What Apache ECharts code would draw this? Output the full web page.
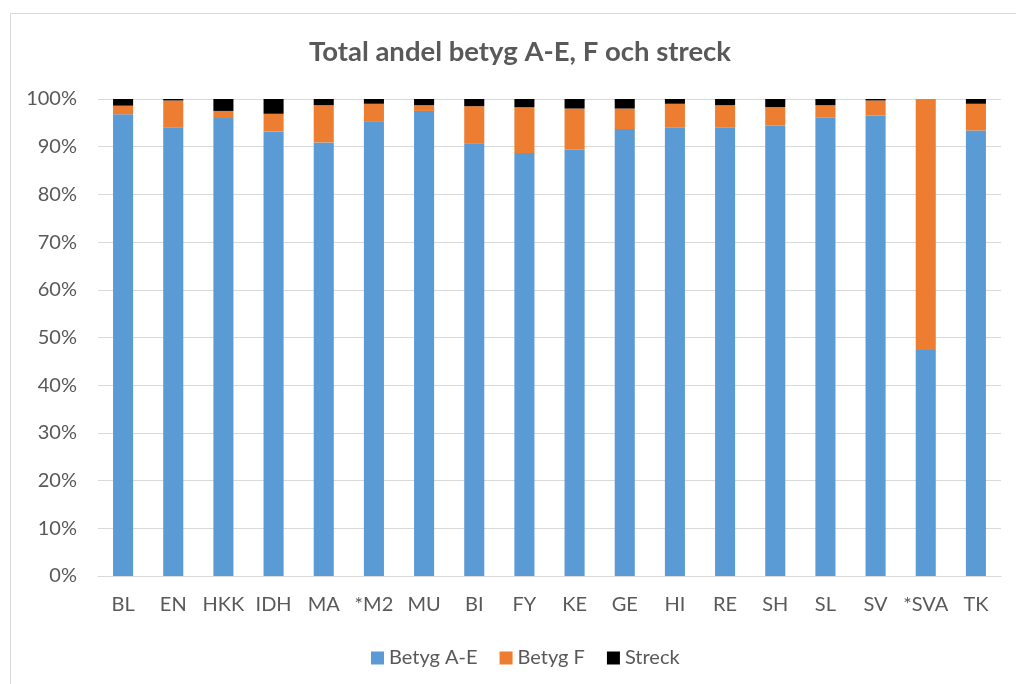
<!DOCTYPE html>
<html lang="sv">
<head>
    <meta charset="UTF-8">
    <title>Total andel betyg A-E, F och streck</title>
    <script type="text/javascript" src="https://cdn.jsdelivr.net/npm/echarts@6/dist/echarts.min.js"></script>
</head>
<body style="margin:0;background:#fff;">
    <div id="chart" style="width:1016px;height:684px;"></div>
</body>
<script type="text/javascript">
    var myChart = echarts.init(document.getElementById('chart'));

    var categories = ['BL', 'EN', 'HKK', 'IDH', 'MA', '*M2', 'MU', 'BI', 'FY', 'KE', 'GE', 'HI', 'RE', 'SH', 'SL', 'SV', '*SVA', 'TK'];
    // andelar i procent
    var betygAE = [96.8, 94.0, 96.0, 93.2, 90.9, 95.2, 97.5, 90.6, 88.7, 89.4, 93.7, 94.1, 94.1, 94.4, 96.1, 96.5, 47.4, 93.4];
    var betygF  = [1.8, 5.7, 1.5, 3.7, 7.8, 3.8, 1.2, 7.9, 9.6, 8.6, 4.3, 4.9, 4.6, 3.9, 2.6, 3.2, 52.6, 5.6];
    var streck  = [1.4, 0.3, 2.5, 3.1, 1.3, 1.0, 1.3, 1.5, 1.7, 2.0, 2.0, 1.0, 1.3, 1.7, 1.3, 0.3, 0.0, 1.0];
    var seriesNames = ['Betyg A-E', 'Betyg F', 'Streck'];
    var colors = ['#5B9BD5', '#ED7D31', '#000000'];

    var textColor = '#595959';
    var font = 'Lato, "Open Sans", sans-serif';

    var options = {
        color: colors,
        animation: false,
        textStyle: { fontFamily: font },
        graphic: [{
            type: 'rect',
            shape: { x: 10.5, y: 13.5, width: 1020, height: 700 },
            style: { fill: null, stroke: '#d9d9d9', lineWidth: 1 },
            silent: true
        }],
        title: {
            text: 'Total andel betyg A-E, F och streck',
            left: 304,
            top: 33,
            textStyle: { color: textColor, fontSize: 27.5, fontWeight: 'bold', fontFamily: font }
        },
        legend: {
            data: seriesNames,
            bottom: 11,
            left: 366,
            itemWidth: 13,
            itemHeight: 13,
            itemGap: 22,
            icon: 'rect',
            selectedMode: false,
            textStyle: { color: textColor, fontSize: 20, fontFamily: font }
        },
        grid: {
            left: 98,
            right: 15,
            top: 99,
            bottom: 108,
            containLabel: false
        },
        xAxis: {
            type: 'category',
            data: categories,
            axisTick: { show: false },
            axisLine: { lineStyle: { color: '#d9d9d9', width: 1 } },
            axisLabel: { color: textColor, fontSize: 20, margin: 19, fontFamily: font, interval: 0 }
        },
        yAxis: {
            type: 'value',
            min: 0,
            max: 100,
            interval: 10,
            axisLine: { show: false },
            axisTick: { show: false },
            splitLine: { lineStyle: { color: '#d9d9d9', width: 1 } },
            axisLabel: { color: textColor, fontSize: 20, margin: 21, fontFamily: font, formatter: '{value}%' }
        },
        series: [
            { name: seriesNames[0], type: 'bar', stack: 'total', barWidth: '40%', data: betygAE },
            { name: seriesNames[1], type: 'bar', stack: 'total', barWidth: '40%', data: betygF },
            { name: seriesNames[2], type: 'bar', stack: 'total', barWidth: '40%', data: streck }
        ]
    };
    myChart.setOption(options);
</script>
</html>
